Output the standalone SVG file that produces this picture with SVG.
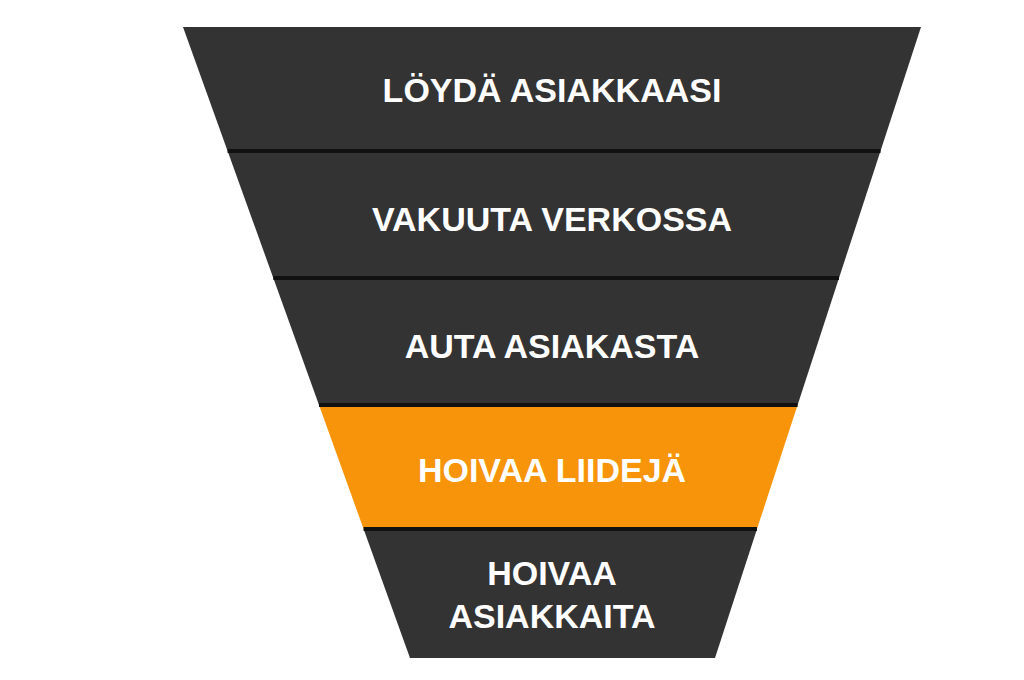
<svg xmlns="http://www.w3.org/2000/svg" width="1024" height="680" viewBox="0 0 1024 680">
<style>
.band{fill:#333333}
.hl{fill:#F7940A}
.sep{stroke:#111111;stroke-width:4}
text{font-family:"Liberation Sans",Arial,sans-serif;font-weight:bold;font-size:34px;fill:#ffffff;text-anchor:middle}
</style>
<rect width="1024" height="680" fill="#ffffff"/>
<g id="n1"><polygon class="band" points="183,27 921,27 880.5,151 227.6,151"/><text x="552" y="102">LÖYDÄ ASIAKKAASI</text></g>
<g id="n2"><polygon class="band" points="227.6,151 880.5,151 839,278 273.3,278"/><text x="552" y="231">VAKUUTA VERKOSSA</text></g>
<g id="n3"><polygon class="band" points="273.3,278 839,278 797.6,405 319,405"/><text x="552" y="358">AUTA ASIAKASTA</text></g>
<g id="n4"><polygon class="hl" points="319,405 797.6,405 757,529 363.6,529"/><text x="552" y="482">HOIVAA LIIDEJÄ</text></g>
<g id="n5"><polygon class="band" points="363.6,529 757,529 715,658 410,658"/><text x="552" y="585">HOIVAA</text><text x="552" y="628">ASIAKKAITA</text></g>
<g id="connectors">
<line class="sep" x1="227.6" y1="151" x2="880.5" y2="151"/>
<line class="sep" x1="273.3" y1="278" x2="839" y2="278"/>
<line class="sep" x1="319" y1="405" x2="797.6" y2="405"/>
<line class="sep" x1="363.6" y1="529" x2="757" y2="529"/>
</g>
</svg>
